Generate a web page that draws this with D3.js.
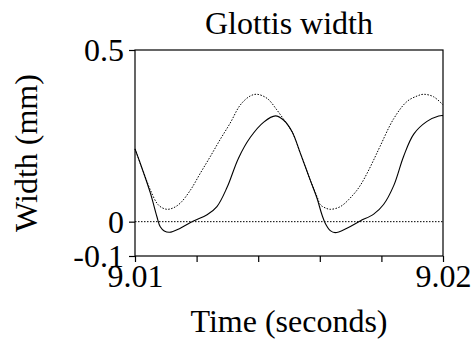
<!DOCTYPE html>
<html>
<head>
<meta charset="utf-8">
<script src="https://cdn.jsdelivr.net/npm/d3@7"></script>
<style>
  body { margin: 0; background: #fff; }
  svg text { font-family: "Liberation Serif", "Times New Roman", serif; fill: #000; }
</style>
</head>
<body>
<script>
// glottis width traces
var solidTime = [9.01000, 9.01017, 9.01050, 9.01071, 9.01082, 9.01095, 9.01112, 9.01147, 9.01190, 9.01234,
  9.01266, 9.01299, 9.01336, 9.01374, 9.01418, 9.01456, 9.01482, 9.01510, 9.01537, 9.01569,
  9.01591, 9.01607, 9.01618, 9.01634, 9.01650, 9.01688, 9.01731, 9.01775, 9.01807, 9.01840,
  9.01872, 9.01905, 9.01948, 9.01986, 9.02000]
var solidWidth = [0.212, 0.17, 0.083, 0.015, -0.015, -0.027, -0.031, -0.019, 0.002, 0.02,
  0.044, 0.1, 0.185, 0.245, 0.29, 0.308, 0.296, 0.262, 0.199, 0.121,
  0.068, 0.02, -0.005, -0.026, -0.032, -0.019, 0.002, 0.022, 0.05, 0.105,
  0.19, 0.255, 0.292, 0.308, 0.309]

var dottedTime = [9.01000, 9.01017, 9.01033, 9.01050, 9.01071, 9.01085, 9.01104, 9.01124, 9.01147, 9.01180,
  9.01212, 9.01244, 9.01277, 9.01309, 9.01342, 9.01374, 9.01396, 9.01429, 9.01461, 9.01488,
  9.01510, 9.01537, 9.01569, 9.01591, 9.01602, 9.01618, 9.01634, 9.01667, 9.01710, 9.01731,
  9.01753, 9.01775, 9.01796, 9.01840, 9.01883, 9.01916, 9.01937, 9.01969, 9.02000]
var dottedWidth = [0.212, 0.17, 0.131, 0.092, 0.054, 0.042, 0.036, 0.04, 0.054, 0.092,
  0.141, 0.189, 0.24, 0.287, 0.34, 0.366, 0.371, 0.359, 0.325, 0.291,
  0.262, 0.199, 0.121, 0.073, 0.049, 0.04, 0.036, 0.044, 0.08, 0.105,
  0.14, 0.18, 0.22, 0.3, 0.35, 0.366, 0.371, 0.364, 0.34]

var xTicks = [9.01, 9.012, 9.014, 9.016, 9.018, 9.02]
var xTickLabels = ['9.01', '', '', '', '', '9.02']
var yTicks = [-0.1, 0, 0.5]
var yTickLabels = ['-0.1', '0', '0.5']

var W = 473, H = 340
var margin = {top: 50, left: 135, right: 30, bottom: 84}
var pw = W - margin.left - margin.right, ph = H - margin.top - margin.bottom
var fontSize = '32px'

var svg = d3.select('body').append('svg')
  .attr('width', W)
  .attr('height', H)

var g = svg.append('g')
  .attr('transform', 'translate(' + margin.left + ',' + margin.top + ')')

var x = d3.scaleLinear().domain([9.01, 9.02]).range([0, pw])
var y = d3.scaleLinear().domain([-0.1, 0.5]).range([ph, 0])

// zero reference line
g.append('line')
  .attr('x1', 0).attr('x2', pw)
  .attr('y1', y(0)).attr('y2', y(0))
  .attr('stroke', '#000')
  .attr('stroke-width', 1)
  .attr('stroke-dasharray', '1.5,1.5')

var line = d3.line()
  .x(d => x(d[0]))
  .y(d => y(d[1]))
  .curve(d3.curveCatmullRom.alpha(0.5))

g.append('path')
  .datum(d3.zip(dottedTime, dottedWidth))
  .attr('d', line)
  .attr('fill', 'none')
  .attr('stroke', '#000')
  .attr('stroke-width', 1)
  .attr('stroke-dasharray', '1.5,1.5')

g.append('path')
  .datum(d3.zip(solidTime, solidWidth))
  .attr('d', line)
  .attr('fill', 'none')
  .attr('stroke', '#000')
  .attr('stroke-width', 1.1)

// frame
g.append('rect')
  .attr('x', 0).attr('y', 0)
  .attr('width', pw).attr('height', ph)
  .attr('fill', 'none')
  .attr('stroke', '#000')
  .attr('stroke-width', 1.2)

// axes
var xAxis = g.append('g')
  .attr('transform', 'translate(0,' + ph + ')')
  .call(d3.axisBottom(x).tickValues(xTicks).tickSize(6).tickPadding(3)
    .tickFormat((d, i) => xTickLabels[i]))
var yAxis = g.append('g')
  .call(d3.axisLeft(y).tickValues(yTicks).tickSize(6).tickPadding(5)
    .tickFormat((d, i) => yTickLabels[i]))

svg.selectAll('.domain').remove()
svg.selectAll('.tick line').attr('stroke', '#000').attr('stroke-width', 1.2)
svg.selectAll('.tick text')
  .style('font-family', '"Liberation Serif", "Times New Roman", serif')
  .style('font-size', fontSize)
  .attr('fill', '#000')
xAxis.selectAll('.tick text').attr('dy', '0.7em')
yAxis.selectAll('.tick text').attr('dy', '0.34em')

// titles
svg.append('text').text('Glottis width')
  .attr('x', margin.left + pw / 2).attr('y', 34)
  .attr('text-anchor', 'middle')
  .style('font-size', fontSize)
svg.append('text').text('Time (seconds)')
  .attr('x', margin.left + pw / 2).attr('y', 332)
  .attr('text-anchor', 'middle')
  .style('font-size', fontSize)
svg.append('text').text('Width (mm)')
  .attr('transform', 'translate(37,' + 153 + ') rotate(-90)')
  .attr('text-anchor', 'middle')
  .style('font-size', fontSize)
</script>
</body>
</html>
